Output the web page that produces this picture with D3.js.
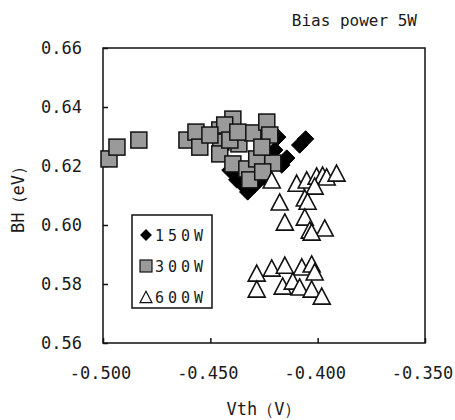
<!DOCTYPE html>
<html>
<head>
<meta charset="utf-8">
<script src="https://cdn.jsdelivr.net/npm/d3@7/dist/d3.min.js"></script>
<style>
  html, body { margin: 0; padding: 0; background: #fff; }
  svg { display: block; }
  text { font-family: "DejaVu Sans Mono", "Liberation Mono", monospace; fill: #1a1a1a; }
</style>
</head>
<body>
<script>
// ---- data (Vth [V], BH [eV]) ----
const xTicks = [-0.50, -0.45, -0.40, -0.35];
const yTicks = [0.56, 0.58, 0.60, 0.62, 0.64, 0.66];
const seriesNames = ["150W", "300W", "600W"];

const vth150 = [-0.4084, -0.4056, -0.4326, -0.4377, -0.4409, -0.4167, -0.4144, -0.4186, -0.4200, -0.4349, -0.4247, -0.4293];
const bh150  = [ 0.6271,  0.6292,  0.6112,  0.6153,  0.6186,  0.6203,  0.6227,  0.6298,  0.6254,  0.6136,  0.6160,  0.6136];

const vth300 = [-0.4972, -0.4935, -0.4833, -0.4609, -0.4567, -0.4549, -0.4456, -0.4395, -0.4433, -0.4451, -0.4456, -0.4367, -0.4409,
                -0.4395, -0.4330, -0.4302, -0.4237, -0.4223, -0.4284, -0.4209, -0.4316, -0.4256, -0.4372, -0.4260, -0.4502];
const bh300  = [ 0.6224,  0.6264,  0.6288,  0.6288,  0.6315,  0.6264,  0.6322,  0.6359,  0.6339,  0.6281,  0.6241,  0.6275,  0.6288,
                 0.6207,  0.6190,  0.6312,  0.6349,  0.6305,  0.6224,  0.6210,  0.6153,  0.6180,  0.6315,  0.6264,  0.6305];

const vth600 = [-0.4214, -0.4098, -0.4051, -0.4005, -0.3977, -0.3958, -0.3912, -0.4014, -0.4177, -0.4060, -0.4047, -0.4153, -0.4060,
                -0.4037, -0.3967, -0.4028,
                -0.4284, -0.4214, -0.4153, -0.4074, -0.4028, -0.4014, -0.4284, -0.4163, -0.4116, -0.4084, -0.4028, -0.3981];
const bh600  = [ 0.6153,  0.6142,  0.6153,  0.6166,  0.6169,  0.6163,  0.6176,  0.6132,  0.6078,  0.6092,  0.6081,  0.6010,  0.6027,
                 0.5983,  0.5990,  0.5976,
                 0.5837,  0.5854,  0.5864,  0.5858,  0.5868,  0.5841,  0.5783,  0.5793,  0.5810,  0.5790,  0.5783,  0.5759];

const W = 455, H = 420;
const m = { left: 103, right: 425, top: 48, bottom: 343 };

const svg = d3.select("body").append("svg").attr("width", W).attr("height", H);

const x = d3.scaleLinear().domain([-0.50, -0.35]).range([m.left, m.right]);
const y = d3.scaleLinear().domain([0.56, 0.66]).range([m.bottom, m.top]);

// frame
svg.append("rect")
  .attr("x", m.left).attr("y", m.top)
  .attr("width", m.right - m.left).attr("height", m.bottom - m.top)
  .attr("fill", "none").attr("stroke", "#111").attr("stroke-width", 1.5);

// axes
const fmtX = d => d3.format(".3f")(d).replace("\u2212", "-");
const xAxis = d3.axisBottom(x).tickValues(xTicks).tickFormat(fmtX)
  .tickSizeInner(-5).tickSizeOuter(0).tickPadding(24);
const yAxis = d3.axisLeft(y).tickValues(yTicks).tickFormat(d3.format(".2f"))
  .tickSizeInner(-5).tickSizeOuter(0).tickPadding(21);

const gx = svg.append("g").attr("transform", `translate(0,${m.bottom})`).call(xAxis);
const gy = svg.append("g").attr("transform", `translate(${m.left},0)`).call(yAxis);
[gx, gy].forEach(g => {
  g.select(".domain").remove();
  g.selectAll(".tick line").attr("stroke", "#111").attr("stroke-width", 1.5);
  g.selectAll(".tick text").attr("font-family", "DejaVu Sans Mono").attr("font-size", 17).attr("fill", "#1a1a1a");
});
gx.selectAll(".tick text").attr("dx", -3);

// axis titles
svg.append("text").attr("x", (m.left + m.right) / 2).attr("y", 415)
  .attr("text-anchor", "middle").attr("font-size", 17).text("Vth（V）");
svg.append("text").attr("transform", `translate(24,${(m.top + m.bottom) / 2}) rotate(-90)`)
  .attr("text-anchor", "middle").attr("font-size", 17).text("BH（eV）");
svg.append("text").attr("x", 417).attr("y", 26)
  .attr("text-anchor", "end").attr("font-size", 16).text("Bias power 5W");

// marks
const diamond = d3.symbol().type(d3.symbolDiamond2).size(170);
const tri = s => { const h = s * 0.95, w = s; return `M0,${-h/2}L${w/2},${h/2}L${-w/2},${h/2}Z`; };

const plot = svg.append("g");
plot.selectAll(".d150").data(d3.range(vth150.length)).join("path")
  .attr("transform", i => `translate(${x(vth150[i])},${y(bh150[i])})`)
  .attr("d", diamond).attr("fill", "#000").attr("stroke", "#000");

const sq = 16;
plot.selectAll(".s300").data(d3.range(vth300.length)).join("rect")
  .attr("x", i => x(vth300[i]) - sq / 2).attr("y", i => y(bh300[i]) - sq / 2)
  .attr("width", sq).attr("height", sq)
  .attr("fill", "#9a9a9a").attr("stroke", "#111").attr("stroke-width", 1.5);

plot.selectAll(".t600").data(d3.range(vth600.length)).join("path")
  .attr("transform", i => `translate(${x(vth600[i])},${y(bh600[i])})`)
  .attr("d", tri(17)).attr("fill", "#fff").attr("stroke", "#111").attr("stroke-width", 1.6);

// legend
const lg = svg.append("g");
lg.append("rect").attr("x", 132).attr("y", 215).attr("width", 80).attr("height", 93)
  .attr("fill", "#fff").attr("stroke", "#111").attr("stroke-width", 1.5);
const rowsY = [235, 266, 297];
lg.append("path").attr("transform", `translate(146,${rowsY[0]})`)
  .attr("d", d3.symbol().type(d3.symbolDiamond2).size(90)).attr("fill", "#000");
lg.append("rect").attr("x", 140).attr("y", rowsY[1] - 6).attr("width", 12).attr("height", 12)
  .attr("fill", "#9a9a9a").attr("stroke", "#111").attr("stroke-width", 1.2);
lg.append("path").attr("transform", `translate(146,${rowsY[2]})`)
  .attr("d", tri(12)).attr("fill", "#fff").attr("stroke", "#111").attr("stroke-width", 1.2);
lg.selectAll(".lt").data(seriesNames).join("text")
  .attr("x", 155).attr("y", (d, i) => rowsY[i] + 6)
  .attr("font-size", 15).attr("letter-spacing", 4).text(d => d);
</script>
</body>
</html>
